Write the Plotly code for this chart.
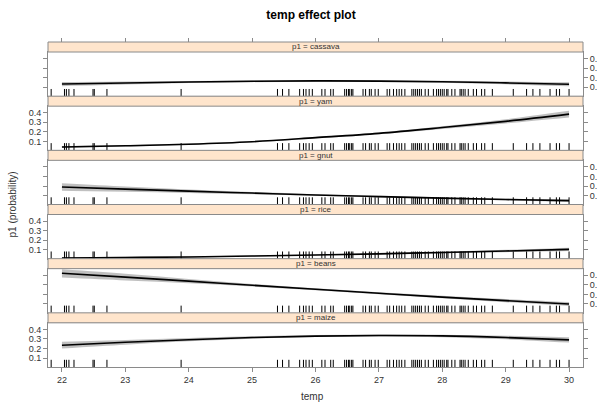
import plotly.graph_objects as go

# ---------------- data ----------------
temp = [22, 23, 24, 25, 26, 27, 28, 29, 30]
levels = ["cassava", "yam", "gnut", "rice", "beans", "maize"]  # top -> bottom

fit_cassava = [0.134, 0.145, 0.155, 0.163, 0.167, 0.165, 0.158, 0.146, 0.132]
lo_cassava = [0.112, 0.129, 0.144, 0.154, 0.159, 0.156, 0.147, 0.131, 0.112]
hi_cassava = [0.156, 0.161, 0.166, 0.172, 0.175, 0.174, 0.169, 0.161, 0.152]

fit_yam = [0.042, 0.055, 0.072, 0.098, 0.140, 0.185, 0.245, 0.310, 0.385]
lo_yam = [0.032, 0.047, 0.065, 0.091, 0.132, 0.175, 0.231, 0.288, 0.350]
hi_yam = [0.052, 0.063, 0.079, 0.105, 0.148, 0.195, 0.259, 0.332, 0.420]

fit_gnut = [0.190, 0.168, 0.147, 0.127, 0.107, 0.090, 0.074, 0.060, 0.048]
lo_gnut = [0.150, 0.140, 0.129, 0.115, 0.098, 0.082, 0.066, 0.051, 0.036]
hi_gnut = [0.230, 0.196, 0.165, 0.139, 0.116, 0.098, 0.082, 0.069, 0.060]

fit_rice = [0.015, 0.020, 0.026, 0.035, 0.046, 0.058, 0.073, 0.088, 0.105]
lo_rice = [0.007, 0.013, 0.020, 0.030, 0.041, 0.052, 0.065, 0.076, 0.088]
hi_rice = [0.023, 0.027, 0.032, 0.040, 0.051, 0.064, 0.081, 0.100, 0.122]

fit_beans = [0.420, 0.380, 0.338, 0.295, 0.253, 0.212, 0.172, 0.135, 0.100]
lo_beans = [0.375, 0.345, 0.316, 0.281, 0.242, 0.201, 0.159, 0.119, 0.080]
hi_beans = [0.462, 0.415, 0.360, 0.309, 0.264, 0.223, 0.185, 0.151, 0.120]

fit_maize = [0.235, 0.265, 0.292, 0.315, 0.330, 0.336, 0.332, 0.315, 0.290]
lo_maize = [0.200, 0.240, 0.275, 0.303, 0.320, 0.326, 0.319, 0.296, 0.262]
hi_maize = [0.270, 0.290, 0.309, 0.327, 0.340, 0.346, 0.345, 0.334, 0.318]

rug_temp = [21.83, 22.04, 22.07, 22.11, 22.19, 22.49, 22.51, 22.71, 23.88,
            25.40, 25.48, 25.58, 25.75, 25.81, 25.85, 25.90, 25.95, 26.10,
            26.15, 26.24, 26.28, 26.46, 26.49, 26.52, 26.54, 26.57, 26.59,
            26.75, 26.79, 26.85, 26.88, 26.94, 26.99, 27.13, 27.17, 27.23,
            27.28, 27.32, 27.36, 27.41, 27.52, 27.55, 27.58, 27.61, 27.64,
            27.67, 27.73, 27.78, 27.86, 27.91, 27.94, 27.97, 28.00, 28.03,
            28.07, 28.09, 28.15, 28.20, 28.28, 28.30, 28.33, 28.36, 28.41,
            28.49, 28.54, 28.62, 28.67, 28.79, 29.12, 29.33, 29.43, 29.54,
            29.70, 29.80, 29.85, 30.00]

x_ticks = [22, 23, 24, 25, 26, 27, 28, 29, 30]
y_ticks = [0.1, 0.2, 0.3, 0.4]

series = {
    "cassava": (fit_cassava, lo_cassava, hi_cassava),
    "yam": (fit_yam, lo_yam, hi_yam),
    "gnut": (fit_gnut, lo_gnut, hi_gnut),
    "rice": (fit_rice, lo_rice, hi_rice),
    "beans": (fit_beans, lo_beans, hi_beans),
    "maize": (fit_maize, lo_maize, hi_maize),
}

# ---------------- layout geometry ----------------
W, H = 597, 402
ML, MR, MT, MB = 48, 14, 42, 35
PW = W - ML - MR
PH = H - MT - MB
UNIT = PH / 6
STRIP = 10
X_RANGE = [21.78, 30.22]
Y_RANGE = [0.008, 0.468]
FONT = "Liberation Sans, Arial, sans-serif"
FRAME = "#8a8a8a"
TXT = "#333333"
STRIP_FILL = "#ffe5cc"

panel_px = UNIT - STRIP
rug_y = Y_RANGE[0] + 3 * (Y_RANGE[1] - Y_RANGE[0]) / panel_px

fig = go.Figure()
shapes, annotations = [], []
layout = {}

for i, lev in enumerate(levels):
    n = i + 1
    xa = "x" if n == 1 else f"x{n}"
    ya = "y" if n == 1 else f"y{n}"
    fit, lo, hi = series[lev]

    fig.add_trace(go.Scatter(x=temp, y=lo, mode="lines",
                             line=dict(width=0, shape="spline"),
                             xaxis=xa, yaxis=ya, hoverinfo="skip"))
    fig.add_trace(go.Scatter(x=temp, y=hi, mode="lines", fill="tonexty",
                             fillcolor="rgba(150,150,150,0.6)",
                             line=dict(width=0, shape="spline"),
                             xaxis=xa, yaxis=ya, hoverinfo="skip"))
    fig.add_trace(go.Scatter(x=temp, y=fit, mode="lines",
                             line=dict(color="black", width=1.6, shape="spline"),
                             xaxis=xa, yaxis=ya))
    fig.add_trace(go.Scatter(x=rug_temp, y=[rug_y] * len(rug_temp), mode="markers",
                             marker=dict(symbol="line-ns", size=6,
                                         line=dict(width=1, color="black")),
                             xaxis=xa, yaxis=ya, hoverinfo="skip"))

    bottom = (PH - UNIT * (i + 1)) / PH
    top = (PH - UNIT * i - STRIP) / PH
    is_bottom = (n == 6)

    layout["xaxis" if n == 1 else f"xaxis{n}"] = dict(
        domain=[0, 1], range=X_RANGE, anchor=ya, showgrid=False, zeroline=False,
        showline=True, linecolor=FRAME, linewidth=1, mirror=True,
        tickvals=x_ticks, ticks="outside" if is_bottom else "",
        ticklen=4, tickcolor=FRAME, showticklabels=is_bottom,
        tickfont=dict(size=9, color=TXT, family=FONT), automargin=False,
        matches=None if n == 1 else "x",
    )
    layout["yaxis" if n == 1 else f"yaxis{n}"] = dict(
        domain=[bottom, top], range=Y_RANGE, anchor=xa, showgrid=False,
        zeroline=False, showline=True, linecolor=FRAME, linewidth=1,
        mirror="allticks", side="right" if i % 2 == 0 else "left",
        tickvals=y_ticks, ticks="outside", ticklen=4, tickcolor=FRAME,
        tickfont=dict(size=9, color=TXT, family=FONT), automargin=False,
    )

    shapes.append(dict(type="rect", xref="paper", yref="paper",
                       x0=0, x1=1, y0=top, y1=top + STRIP / PH,
                       fillcolor=STRIP_FILL, line=dict(color=FRAME, width=1),
                       layer="above"))
    annotations.append(dict(text=f"p1 = {lev}", xref="paper", yref="paper",
                            x=0.5, y=top + STRIP / PH / 2, xanchor="center",
                            yanchor="middle", showarrow=False,
                            font=dict(size=8, color=TXT, family=FONT)))

# top tick axis above the first strip
fig.add_trace(go.Scatter(x=[None], y=[None], xaxis="x7", yaxis="y",
                         mode="markers", hoverinfo="skip"))
layout["xaxis7"] = dict(domain=[0, 1], range=X_RANGE, overlaying="x",
                        anchor="free", position=1.0, side="top",
                        tickvals=x_ticks, ticks="outside", ticklen=4,
                        tickcolor=FRAME, showticklabels=False, automargin=False,
                        showgrid=False, zeroline=False, showline=False)

annotations.append(dict(text="p1 (probability)", xref="paper", yref="paper",
                        x=(12 - ML) / PW, y=0.5, textangle=-90,
                        xanchor="center", yanchor="middle", showarrow=False,
                        font=dict(size=10, color=TXT, family=FONT)))
annotations.append(dict(text="temp", xref="paper", yref="paper",
                        x=(312 - ML) / PW, y=-(396 - (H - MB)) / PH,
                        xanchor="center", yanchor="middle", showarrow=False,
                        font=dict(size=10, color=TXT, family=FONT)))

fig.update_layout(
    width=W, height=H,
    margin=dict(l=ML, r=MR, t=MT, b=MB, autoexpand=False),
    paper_bgcolor="white", plot_bgcolor="white",
    showlegend=False, hovermode=False,
    title=dict(text="<b>temp effect plot</b>", x=311 / W, xref="container",
               xanchor="center", y=1 - 15 / H, yref="container",
               yanchor="middle", font=dict(size=12, color="black", family=FONT)),
    shapes=shapes, annotations=annotations,
    **layout,
)

fig.write_html("out.html")
